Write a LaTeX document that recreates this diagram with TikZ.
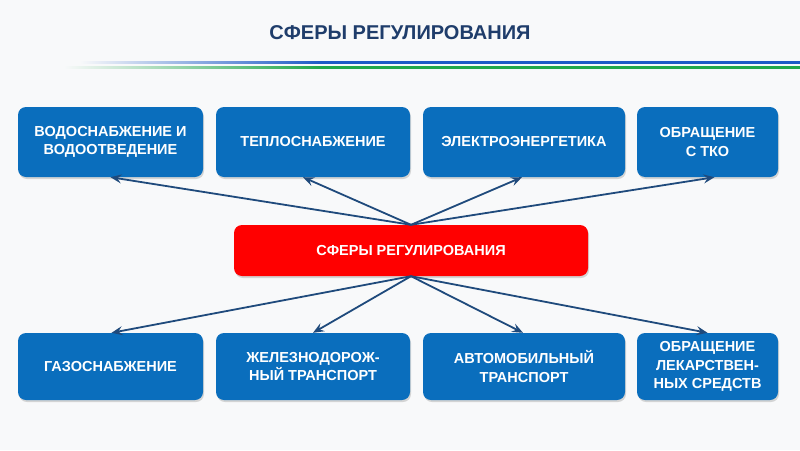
\documentclass[tikz,border=0pt]{standalone}
\usepackage{fontspec}
\setmainfont{Liberation Sans}
\usetikzlibrary{arrows.meta,shadows}
\definecolor{bg}{HTML}{F8F9FA}
\definecolor{boxblue}{HTML}{0A6EBD}
\definecolor{boxred}{HTML}{FF0000}
\definecolor{arrowblue}{HTML}{1F4A7C}
\definecolor{titleblue}{HTML}{1F3D6B}
\definecolor{lineblue}{HTML}{1E5BC6}
\definecolor{linegreen}{HTML}{22A84A}
\pgfdeclarehorizontalshading{bluefade}{100bp}{color(0bp)=(bg); color(30bp)=(bg); color(45bp)=(lineblue); color(100bp)=(lineblue)}
\pgfdeclarehorizontalshading{greenfade}{100bp}{color(0bp)=(bg); color(29bp)=(bg); color(45bp)=(linegreen); color(100bp)=(linegreen)}
\begin{document}
\begin{tikzpicture}[x=1pt,y=-1pt,
  boxbase/.style={draw=none, rounded corners=8pt, inner sep=0pt, text=white,
    align=center, font=\bfseries\fontsize{14.5}{18.5}\selectfont,
    drop shadow={shadow xshift=1pt, shadow yshift=-2pt, opacity=0.25, fill=black!60}},
  bluebox/.style={boxbase, fill=boxblue},
  redbox/.style={boxbase, fill=boxred},
  arr/.style={draw=arrowblue, line width=1.8pt, -{Stealth[length=11pt,width=9pt,inset=4pt]}},
  titletext/.style={text=titleblue, font=\bfseries\fontsize{20}{24}\selectfont},
]
\useasboundingbox[fill=bg] (0,0) rectangle (800,450);
% title
\node[titletext] (title) at (400,33) {СФЕРЫ РЕГУЛИРОВАНИЯ};
% header lines
\shade[shading=bluefade] (0,61) rectangle (800,63.3);
\shade[shading=greenfade] (0,66.3) rectangle (800,68.6);
% top row
\node[bluebox, minimum width=185pt, minimum height=70pt] (b1) at (110.5,142) {ВОДОСНАБЖЕНИЕ И\\ВОДООТВЕДЕНИЕ};
\node[bluebox, minimum width=194pt, minimum height=70pt] (b2) at (313,142) {ТЕПЛОСНАБЖЕНИЕ};
\node[bluebox, minimum width=202pt, minimum height=70pt] (b3) at (524,142) {ЭЛЕКТРОЭНЕРГЕТИКА};
\node[bluebox, minimum width=141pt, minimum height=70pt] (b4) at (707.5,142) {ОБРАЩЕНИЕ\\С ТКО};
% center
\node[redbox, minimum width=354pt, minimum height=51pt] (c) at (411,250.5) {СФЕРЫ РЕГУЛИРОВАНИЯ};
% bottom row
\node[bluebox, minimum width=185pt, minimum height=67pt] (d1) at (110.5,366.5) {ГАЗОСНАБЖЕНИЕ};
\node[bluebox, minimum width=194pt, minimum height=67pt] (d2) at (313,366.5) {ЖЕЛЕЗНОДОРОЖ-\\НЫЙ ТРАНСПОРТ};
\node[bluebox, minimum width=202pt, minimum height=67pt] (d3) at (524,366.5) {АВТОМОБИЛЬНЫЙ\\ТРАНСПОРТ};
\node[bluebox, minimum width=141pt, minimum height=67pt] (d4) at (707.5,366.5) {ОБРАЩЕНИЕ\\ЛЕКАРСТВЕН-\\НЫХ СРЕДСТВ};
% arrows
\draw[arr] (c.north) -- (b1.south);
\draw[arr] (c.north) -- ([xshift=-10pt]b2.south);
\draw[arr] (c.north) -- ([xshift=-2pt]b3.south);
\draw[arr] (c.north) -- ([xshift=7pt]b4.south);
\draw[arr] (c.south) -- ([xshift=1pt]d1.north);
\draw[arr] (c.south) -- (d2.north);
\draw[arr] (c.south) -- ([xshift=-1pt]d3.north);
\draw[arr] (c.south) -- (d4.north);
\end{tikzpicture}
\end{document}
